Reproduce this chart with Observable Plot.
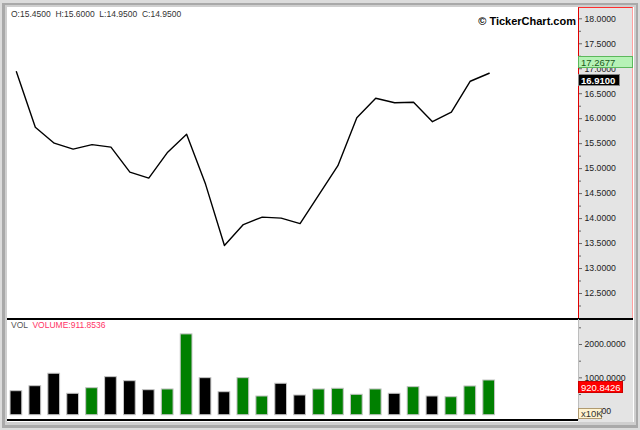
<!DOCTYPE html>
<html>
<head>
<meta charset="utf-8">
<script src="https://cdn.jsdelivr.net/npm/d3@7"></script>
<script src="https://cdn.jsdelivr.net/npm/@observablehq/plot@0.6"></script>
<style>
  html, body { margin: 0; padding: 0; background: #d9d9d9; }
  #wrap { position: relative; width: 640px; height: 430px; overflow: hidden; background: #dcdcdc; font-family: "Liberation Sans", Arial, sans-serif; }
  .abs { position: absolute; }
  .box { position: absolute; box-sizing: border-box; font-size: 9.5px; line-height: 11px; padding-left: 2px; white-space: pre; }
</style>
</head>
<body>
<div id="wrap">
  <div class="abs" style="left:2px;top:3px;width:636px;height:425px;background:#a9a9a9;"></div>
  <div class="abs" style="left:5px;top:5px;width:631px;height:420px;background:#cfcfcf;"></div>
  <div class="abs" style="left:7px;top:7px;width:627px;height:415px;background:#ffffff;"></div>
  <div class="abs" style="left:578px;top:7px;width:55px;height:415px;background:#e4e4e4;"></div>
  <div class="abs" style="left:578px;top:7px;width:55px;height:311px;box-sizing:border-box;border-left:1.5px solid #e00000;border-top:1px solid #ff3030;border-right:1px solid #ffa0a0;"></div>
  <div class="abs" style="left:7px;top:318px;width:626px;height:1.5px;background:#000;"></div>
  <div class="abs" style="left:7px;top:419px;width:571px;height:1.5px;background:#000;"></div>
  <div class="abs" style="left:578px;top:319px;width:1px;height:101px;background:#bdbdbd;"></div>
  <div id="price" class="abs" style="left:8px;top:7px;"></div>
  <div id="volume" class="abs" style="left:8px;top:319px;"></div>
  <div id="ohlc" class="abs" style="left:11px;top:9px;font-size:8.5px;color:#333;white-space:pre;"></div>
  <div id="brand" class="abs" style="right:64px;top:15px;font-size:11px;font-weight:bold;color:#000;">© TickerChart.com</div>
  <div class="abs" style="left:11px;top:320px;font-size:8.5px;white-space:pre;"><span style="color:#555;">VOL  </span><span id="volLabel" style="color:#ff3366;"></span></div>
</div>
<script>
// ---- data ----
const closes = [16.94, 15.83, 15.51, 15.39, 15.48, 15.43, 14.93, 14.81, 15.33, 15.69,
                14.69, 13.46, 13.88, 14.03, 14.01, 13.90, 14.48, 15.06, 16.02, 16.41,
                16.32, 16.33, 15.94, 16.13, 16.75, 16.91];
const volumes = [600, 750, 1123, 522, 690, 1021, 900, 630, 652, 2303,
                 991, 570, 991, 441, 823, 471, 652, 673, 492, 652,
                 522, 721, 441, 420, 742, 920.8426];
const direction = ["down", "down", "down", "down", "up", "down", "down", "down", "up", "up",
                   "down", "down", "up", "up", "down", "down", "up", "up", "up", "up",
                   "down", "up", "down", "up", "up", "up"];
const priceTicks = [12.5, 13, 13.5, 14, 14.5, 15, 15.5, 16, 16.5, 17, 17.5, 18];
const priceMinorTicks = [12.25, 12.75, 13.25, 13.75, 14.25, 14.75, 15.25, 15.75, 16.25, 16.75, 17.25, 17.75];
const volumeTicks = [0, 1000, 2000];
const volumeMinorTicks = [500, 1500, 2500];
const ohlc = {O: "15.4500", H: "15.6000", L: "14.9500", C: "14.9500"};
const markerPrice = 17.2677;
const lastClose = 16.91;
const lastVolume = 920.8426;
const hoverVolume = 911.8536;

// ---- charts ----
const fmt4 = d3.format(".4f");
const axisStyle = {background: "transparent", fontFamily: "'Liberation Sans', Arial, sans-serif", fontSize: "8.7px", color: "#222", overflow: "visible"};

const price = Plot.plot({
  width: 625, height: 311,
  marginLeft: 0, marginRight: 55, marginTop: 0, marginBottom: 0,
  style: axisStyle,
  x: {domain: [0, closes.length - 1], range: [7.9, 480.7], axis: null},
  y: {domain: [12.5, 18], range: [286, 11.3], axis: null},
  marks: [
    Plot.axisY({anchor: "right", ticks: priceMinorTicks, tickSize: 2, tickFormat: () => "", label: null, stroke: "#666"}),
    Plot.axisY({anchor: "right", ticks: priceTicks, tickSize: 3, tickPadding: 3, tickFormat: fmt4, label: null, stroke: "#666", fill: "#222"}),
    Plot.line(closes, {x: (d, i) => i, y: d => d, stroke: "#000", strokeWidth: 1.4})
  ]
});
document.getElementById("price").appendChild(price);

const volData = volumes.map((v, i) => ({i, v, dir: direction[i]}));
const volume = Plot.plot({
  width: 625, height: 100,
  marginLeft: 0, marginRight: 55, marginTop: 0, marginBottom: 0,
  style: axisStyle,
  x: {domain: [0, volumes.length - 1], range: [7.9, 480.7], axis: null},
  y: {domain: [0, 2000], range: [91.7, 25], axis: null},
  color: {domain: ["up", "down"], range: ["#008000", "#000000"]},
  marks: [
    Plot.axisY({anchor: "right", ticks: volumeMinorTicks, tickSize: 2, tickFormat: () => "", label: null, stroke: "#666"}),
    Plot.axisY({anchor: "right", ticks: volumeTicks, tickSize: 3, tickPadding: 3, tickFormat: fmt4, label: null, stroke: "#666", fill: "#222"}),
    Plot.rect(volData, {x1: d => d.i - 0.31, x2: d => d.i + 0.31, y1: 0, y2: "v", fill: "dir", stroke: "#c4c4c4", strokeWidth: 1, insetBottom: -4})
  ]
});
document.getElementById("volume").appendChild(volume);

// ---- texts and value boxes ----
document.getElementById("ohlc").textContent = `O:${ohlc.O}  H:${ohlc.H}  L:${ohlc.L}  C:${ohlc.C}`;
document.getElementById("volLabel").textContent = "VOLUME:" + fmt4(hoverVolume);

const wrap = document.getElementById("wrap");
function addBox(text, top, left, width, css) {
  const b = document.createElement("div");
  b.className = "box";
  b.textContent = text;
  b.style.top = top + "px";
  b.style.left = left + "px";
  b.style.width = width + "px";
  b.style.height = "12px";
  Object.assign(b.style, css);
  wrap.appendChild(b);
}
const py = v => 7 + price.scale("y").apply(v);
const vy = v => 319 + volume.scale("y").apply(v);
addBox(fmt4(markerPrice), py(markerPrice) + 1, 578, 55, {background: "#b6f2b6", border: "1px solid #5cb85c", color: "#1a5a1a"});
addBox(fmt4(lastClose), py(lastClose) + 1, 578, 42, {background: "#000", color: "#fff", fontWeight: "bold", border: "1px solid #888"});
addBox(fmt4(lastVolume), vy(lastVolume) + 1, 578, 45, {background: "#ff0000", color: "#fff", border: "1px solid #c00"});
addBox("x10K", vy(0) - 3, 578, 24, {background: "#fff3d0", color: "#333", border: "1px solid #b09a70", height: "11px", lineHeight: "9px"});
</script>
</body>
</html>
